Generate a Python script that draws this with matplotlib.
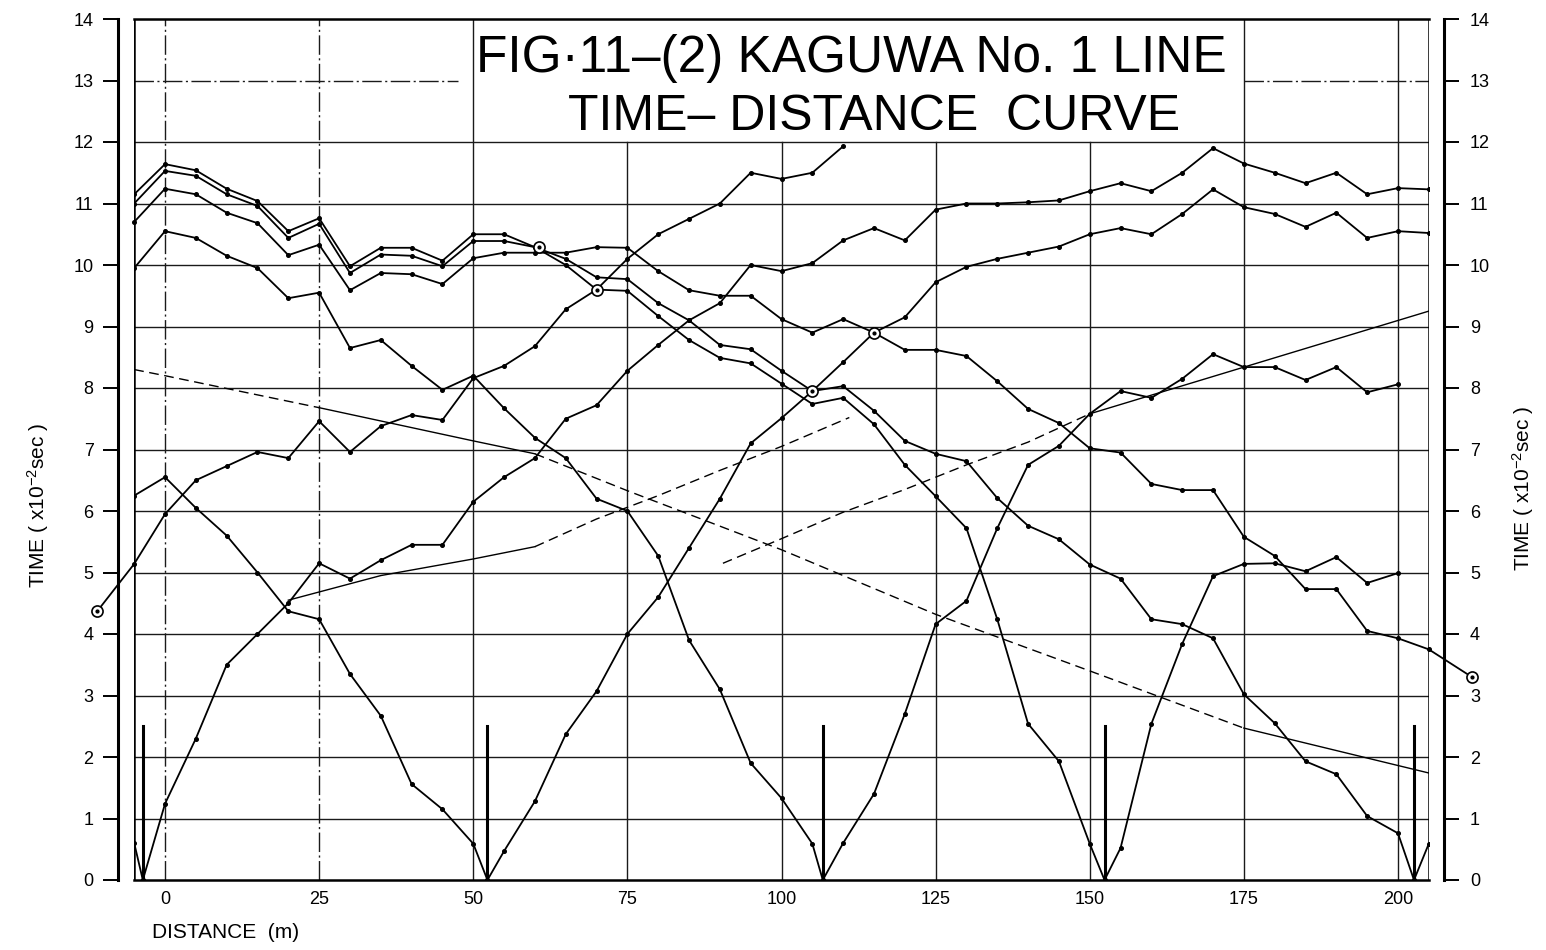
import matplotlib
matplotlib.use('Agg')
import matplotlib.pyplot as plt

plt.rcParams['font.family'] = ['Liberation Sans', 'DejaVu Sans']
plt.rcParams['mathtext.fontset'] = 'custom'
plt.rcParams['mathtext.rm'] = 'Liberation Sans'
plt.rcParams['mathtext.default'] = 'regular'

# ---------------- data ----------------
TITLE_1 = "FIG·11–(2) KAGUWA No. 1 LINE"
TITLE_2 = "TIME– DISTANCE  CURVE"
X_LABEL = "DISTANCE  (m)"
Y_LABEL = "TIME ( x10$^{-2}$sec )"
X_TICKS = [0, 25, 50, 75, 100, 125, 150, 175, 200]
Y_TICKS = list(range(0, 15))

SHOTS = [-3.6, 52.3, 106.7, 152.4, 202.6]
SHOT_MARK_HEIGHT = 2.5
GEOPHONES = list(range(0, 210, 5))          # 0 ... 205 m


def gp(a, b):
    return [d for d in GEOPHONES if a <= d <= b]


# forward curve from off-end shot (left)
F0_X = [-11, -5] + gp(0, 110)
F0_T = [4.37, 5.14, 5.95, 6.5, 6.73, 6.96, 6.86, 7.46, 6.96, 7.38, 7.56, 7.48,
        8.16, 8.36, 8.68, 9.28, 9.6, 10.1, 10.5, 10.75, 11.0, 11.5, 11.4, 11.5, 11.93]
# shot 1
R1_X = [-5, SHOTS[0]]
R1_T = [0.6, 0]
F1_X = [SHOTS[0]] + gp(0, 205)
F1_T = [0, 1.24, 2.3, 3.5, 4.0, 4.5, 5.15, 4.9, 5.2, 5.45, 5.45, 6.15, 6.55, 6.86,
        7.5, 7.72, 8.28, 8.7, 9.1, 9.38, 10.0, 9.9, 10.03, 10.4, 10.6, 10.4, 10.9,
        11.0, 11.0, 11.02, 11.05, 11.2, 11.33, 11.2, 11.5, 11.9, 11.65, 11.5, 11.33,
        11.5, 11.15, 11.25, 11.23]
# shot 2
R2_X = [-5] + gp(0, 50) + [SHOTS[1]]
R2_T = [6.25, 6.55, 6.05, 5.6, 5.0, 4.37, 4.24, 3.35, 2.67, 1.56, 1.15, 0.59, 0]
F2_X = [SHOTS[1]] + gp(55, 205)
F2_T = [0, 0.47, 1.28, 2.37, 3.07, 4.0, 4.6, 5.4, 6.2, 7.1, 7.51, 7.95, 8.42, 8.9,
        9.15, 9.72, 9.97, 10.1, 10.2, 10.3, 10.5, 10.6, 10.5, 10.83, 11.23, 10.94,
        10.83, 10.62, 10.85, 10.44, 10.55, 10.52]
# shot 3
R3_X = [-5] + gp(0, 105) + [SHOTS[2]]
R3_T = [9.95, 10.55, 10.44, 10.15, 9.95, 9.46, 9.55, 8.65, 8.78, 8.36, 7.97, 8.2,
        7.67, 7.19, 6.86, 6.2, 6.0, 5.27, 3.9, 3.1, 1.9, 1.33, 0.59, 0]
F3_X = [SHOTS[2]] + gp(110, 200)
F3_T = [0, 0.6, 1.4, 2.7, 4.16, 4.54, 5.72, 6.75, 7.06, 7.58, 7.95, 7.84, 8.15,
        8.55, 8.34, 8.34, 8.13, 8.34, 7.93, 8.06]
# shot 4
R4_X = [-5] + gp(0, 150) + [SHOTS[3]]
R4_T = [11.0, 11.53, 11.45, 11.15, 10.96, 10.44, 10.67, 9.87, 10.17, 10.15, 9.98,
        10.39, 10.39, 10.29, 10.0, 9.6, 9.58, 9.17, 8.78, 8.49, 8.4, 8.07, 7.74,
        7.84, 7.41, 6.75, 6.24, 5.72, 4.24, 2.54, 1.93, 0.59, 0]
F4_X = [SHOTS[3]] + gp(155, 200)
F4_T = [0, 0.52, 2.54, 3.84, 4.94, 5.14, 5.15, 5.02, 5.25, 4.83, 4.99]
# shot 5
R5_X = [-5] + gp(0, 200) + [SHOTS[4]]
R5_T = [11.15, 11.64, 11.54, 11.24, 11.04, 10.55, 10.76, 9.98, 10.28, 10.28, 10.07,
        10.5, 10.5, 10.29, 10.1, 9.8, 9.77, 9.38, 9.1, 8.7, 8.63, 8.28, 7.95, 8.03,
        7.63, 7.14, 6.93, 6.81, 6.21, 5.76, 5.54, 5.13, 4.9, 4.24, 4.16, 3.93, 3.02,
        2.55, 1.93, 1.72, 1.04, 0.76, 0]
F5_X = [SHOTS[4], 205]
F5_T = [0, 0.59]
# reverse curve from off-end shot (right)
RE_X = [-5] + gp(0, 205) + [212]
RE_T = [10.7, 11.24, 11.15, 10.85, 10.68, 10.16, 10.33, 9.59, 9.87, 9.85, 9.69,
        10.11, 10.2, 10.2, 10.2, 10.29, 10.28, 9.9, 9.59, 9.5, 9.5, 9.12, 8.9, 9.12,
        8.9, 8.62, 8.62, 8.52, 8.11, 7.66, 7.43, 7.02, 6.95, 6.44, 6.34, 6.34, 5.58,
        5.27, 4.73, 4.73, 4.05, 3.93, 3.75, 3.3]

# fitted (interpreted) lines
FIT1_X = [20, 35, 50, 60, 70, 80, 90, 100, 111]
FIT1_T = [4.55, 4.95, 5.22, 5.42, 5.87, 6.25, 6.66, 7.05, 7.52]
FIT1_SPLIT = 60
FIT2_X = [90.5, 100, 110, 120, 130, 140, 150, 205]
FIT2_T = [5.15, 5.55, 5.98, 6.35, 6.75, 7.12, 7.58, 9.25]
FIT2_SPLIT = 150
FIT3_X = [-5, 0, 25, 50, 60, 75, 100, 125, 150, 175, 205]
FIT3_T = [8.3, 8.2, 7.68, 7.14, 6.93, 6.33, 5.37, 4.32, 3.4, 2.47, 1.74]

CIRCLE_X = [-11, 60.7, 70, 105, 115, 212]
CIRCLE_T = [4.37, 10.29, 9.6, 7.95, 8.9, 3.3]

XMIN, XMAX = -5, 205
YMIN, YMAX = 0, 14

# ---------------- figure ----------------
fig = plt.figure(figsize=(15.46, 9.5), dpi=100)
ax = fig.add_axes([134.2 / 1546, 70 / 950, 1294.6 / 1546, 861 / 950])
ax.set_xlim(XMIN, XMAX)
ax.set_ylim(YMIN, YMAX)

grid_kw = dict(color='#1a1a1a', lw=1.0, zorder=1)
DASHDOT = (0, (14, 2.5, 1.5, 2.5))
# horizontal grid
for y in Y_TICKS[1:-1]:
    if y == 13:
        ax.plot([XMIN, 47.5], [y, y], ls=DASHDOT, **grid_kw)
        ax.plot([175, XMAX], [y, y], ls=DASHDOT, **grid_kw)
    else:
        ax.plot([XMIN, XMAX], [y, y], ls='-', **grid_kw)
# vertical grid
for x in X_TICKS:
    top = 12 if 75 <= x <= 150 else YMAX
    style = DASHDOT if x <= 25 else '-'
    ax.plot([x, x], [YMIN, top], ls=style, **grid_kw)

# frame
for s in ['top', 'bottom']:
    ax.spines[s].set_linewidth(1.8)
ax.axvline(XMIN, color='k', lw=1.8, zorder=2)
ax.axvline(XMAX, color='k', lw=1.8, zorder=2)
ax.spines['right'].set_visible(False)
ax.spines['left'].set_position(('outward', 11.5))
ax.spines['left'].set_linewidth(2.2)

# data curves
curve_kw = dict(color='k', lw=1.3, marker='o', ms=2.6, zorder=4)
for xs, ts in [(F1_X, F1_T), (R1_X, R1_T), (R2_X, R2_T), (F2_X, F2_T),
               (R3_X, R3_T), (F3_X, F3_T), (R4_X, R4_T), (F4_X, F4_T),
               (R5_X, R5_T), (F5_X, F5_T)]:
    ax.plot(xs, ts, **curve_kw)
ax.plot(F0_X, F0_T, clip_on=False, **curve_kw)
ax.plot(RE_X, RE_T, clip_on=False, **curve_kw)


def split_plot(xs, ts, splits, styles):
    # draw a polyline with different line styles between split positions
    bounds = [xs[0]] + splits + [xs[-1]]
    for i, st in enumerate(styles):
        a, b = bounds[i], bounds[i + 1]
        px = [x for x in xs if a <= x <= b]
        pt = [t for x, t in zip(xs, ts) if a <= x <= b]
        ax.plot(px, pt, color='k', lw=1.0, ls=st, zorder=3)


DASH = (0, (7, 4))
split_plot(FIT1_X, FIT1_T, [FIT1_SPLIT], ['-', DASH])
split_plot(FIT2_X, FIT2_T, [FIT2_SPLIT], [DASH, '-'])
split_plot(FIT3_X, FIT3_T, [25, 60, 175], [DASH, '-', DASH, '-'])

# shot point marks
for s in SHOTS:
    ax.plot([s, s], [0, SHOT_MARK_HEIGHT], color='k', lw=2.2, zorder=5)

# tie-point circles
ax.plot(CIRCLE_X, CIRCLE_T, ls='none', marker='o', ms=8, mfc='white', mec='k',
        mew=1.2, clip_on=False, zorder=6)
ax.plot(CIRCLE_X, CIRCLE_T, ls='none', marker='o', ms=2, color='k',
        clip_on=False, zorder=7)

# ticks
ax.set_xticks(X_TICKS)
ax.set_xticklabels([str(v) for v in X_TICKS])
ax.tick_params(axis='x', length=0, pad=8, labelsize=13)
ax.set_yticks(Y_TICKS)
ax.set_yticklabels([str(v) for v in Y_TICKS])
ax.tick_params(axis='y', direction='out', length=10.8, width=1.4, pad=7, labelsize=13)

ax2 = ax.twinx()
ax2.set_ylim(YMIN, YMAX)
ax2.set_yticks(Y_TICKS)
ax2.set_yticklabels([str(v) for v in Y_TICKS])
for s in ['top', 'bottom', 'left']:
    ax2.spines[s].set_visible(False)
ax2.spines['right'].set_position(('outward', 10.8))
ax2.spines['right'].set_linewidth(2.2)
ax2.tick_params(axis='y', direction='out', length=10.8, width=1.4, pad=8, labelsize=13)

# texts
fig.text(851 / 1546, 1 - 72 / 950, TITLE_1, ha='center', va='baseline', fontsize=37)
fig.text(874 / 1546, 1 - 130 / 950, TITLE_2, ha='center', va='baseline', fontsize=36)
fig.text(152 / 1546, 1 - 932 / 950, X_LABEL, ha='left', va='center', fontsize=15)
fig.text(38 / 1546, 1 - 505 / 950, Y_LABEL, ha='center', va='center', rotation=90, fontsize=15)
fig.text(1523 / 1546, 1 - 488 / 950, Y_LABEL, ha='center', va='center', rotation=90, fontsize=15)

fig.savefig('out.png', dpi=100)
